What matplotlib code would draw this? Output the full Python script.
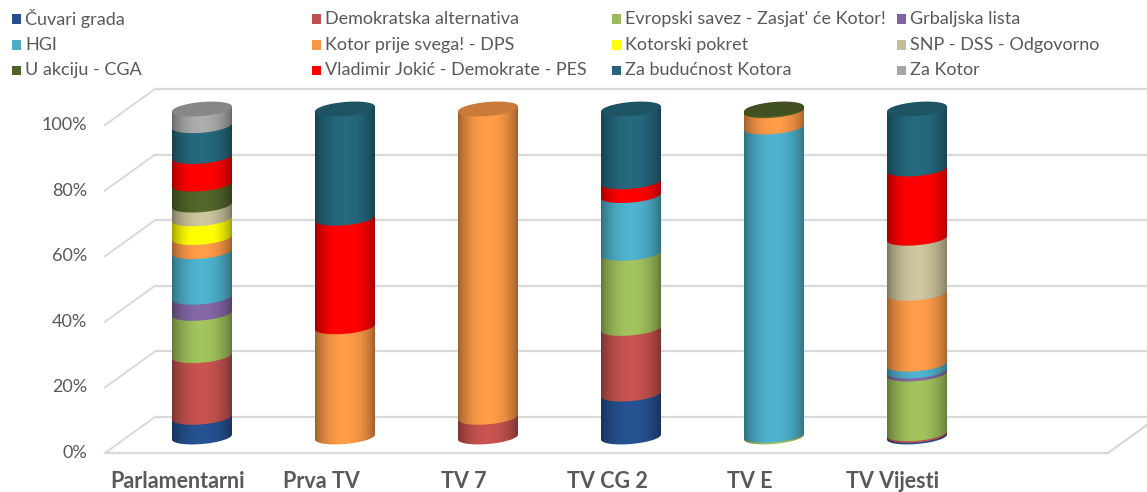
import numpy as np
import matplotlib
matplotlib.use('Agg')
import matplotlib.pyplot as plt
from matplotlib.patches import PathPatch, Rectangle, Polygon
from matplotlib.path import Path
from matplotlib.colors import to_rgb

# ---------------- data ----------------
categories = ['Parlamentarni', 'Prva TV', 'TV 7', 'TV CG 2', 'TV E', 'TV Vijesti']
series_names = ['Čuvari grada', 'Demokratska alternativa', "Evropski savez - Zasjat' će Kotor!",
                'Grbaljska lista', 'HGI', 'Kotor prije svega! - DPS', 'Kotorski pokret',
                'SNP - DSS - Odgovorno', 'U akciju - CGA', 'Vladimir Jokić - Demokrate - PES',
                'Za budućnost Kotora', 'Za Kotor']
series_colors = ['#244F8C', '#C0504D', '#9BBB59', '#8064A2', '#4BACC6', '#F79646',
                 '#FFFF00', '#C4BD97', '#4F6228', '#FF0000', '#24657A', '#A5A5A5']

cuvari_grada            = [6.0,  0.0,  0.0, 13.1,  0.0,  0.5]
demokratska_alternativa = [18.8, 0.0,  6.0, 20.0,  0.0,  0.5]
evropski_savez          = [12.9, 0.0,  0.0, 22.9,  0.5, 18.2]
grbaljska_lista         = [4.9,  0.0,  0.0,  0.0,  0.0,  0.9]
hgi                     = [13.9, 0.0,  0.0, 17.6, 94.0,  2.1]
kotor_prije_svega_dps   = [4.3, 33.6, 94.0,  0.0,  5.0, 21.6]
kotorski_pokret         = [5.7,  0.0,  0.0,  0.0,  0.0,  0.0]
snp_dss_odgovorno       = [4.2,  0.0,  0.0,  0.0,  0.0, 16.8]
u_akciju_cga            = [6.4,  0.0,  0.0,  0.0,  0.5,  0.0]
vladimir_jokic_pes      = [8.4, 33.1,  0.0,  4.2,  0.0, 21.1]
za_buducnost_kotora     = [9.4, 33.3,  0.0, 22.2,  0.0, 18.3]
za_kotor                = [5.1,  0.0,  0.0,  0.0,  0.0,  0.0]

series_values = [cuvari_grada, demokratska_alternativa, evropski_savez, grbaljska_lista, hgi,
                 kotor_prije_svega_dps, kotorski_pokret, snp_dss_odgovorno, u_akciju_cga,
                 vladimir_jokic_pes, za_buducnost_kotora, za_kotor]

y_ticks = [0, 20, 40, 60, 80, 100]
y_tick_labels = ['0%', '20%', '40%', '60%', '80%', '100%']

# ---------------- layout ----------------
W, H = 1147, 492
PX = 143.0      # pixels per category unit
PY = 3.28       # pixels per percent
X0 = 178.0      # pixel x of category 0 (front plane)
Y0 = 453.0      # pixel y of 0% (front plane)

FONT = 'Lato'
TXT = '#595959'
GRID = '#D9D9D9'

fig = plt.figure(figsize=(W / 100, H / 100), dpi=100)
ax = fig.add_axes([0, 0, 1, 1])
ax.set_xlim(-X0 / PX, (W - X0) / PX)
ax.set_ylim((Y0 - H) / PY, Y0 / PY)
ax.axis('off')

BDX = 50 / PX          # depth offset of back wall
BDY = 36 / PY
FL = (105 - X0) / PX   # front left edge
FR = (1108 - X0) / PX  # front right edge

for t, lab in zip(y_ticks, y_tick_labels):
    ax.plot([FL + BDX, FR + BDX + 1], [t + BDY, t + BDY], color=GRID, lw=1.6, zorder=1,
            solid_capstyle='butt')
    ax.plot([FL, FL + BDX], [t, t + BDY], color=GRID, lw=1.4, zorder=1)
    ax.text(FL - 18 / PX, t, lab, ha='right', va='center', fontsize=13, color=TXT,
            family=FONT)
ax.plot([FL, FR], [0, 0], color=GRID, lw=1.6, zorder=1)
ax.plot([FR, FR + BDX], [0, BDY], color=GRID, lw=1.6, zorder=1)

# ---------------- cylinders ----------------
BAR_DX = 24 / PX
BAR_DY = 16 / PY
A = 30 / PX                 # half width
B = 7 / PY                  # semi-minor of ellipse
S = (5 / PY) / (60 / PX)    # shear (right side higher)

NG = 240
tt = np.linspace(0, 1, NG)
shade = 0.62 + 0.43 * np.sin(np.pi * tt) ** 0.7


def seg_path(xc, y0, y1):
    th = np.linspace(np.pi, 2 * np.pi, 60)
    xs = xc + A * np.cos(th)
    ys = y0 + B * np.sin(th) + S * A * np.cos(th)
    xs = np.concatenate([xs, [xc + A, xc - A]])
    ys = np.concatenate([ys, [y1 + S * A, y1 - S * A]])
    return Path(np.column_stack([xs, ys]), closed=False)


def ellipse_path(xc, y):
    th = np.linspace(0, 2 * np.pi, 100)
    xs = xc + A * np.cos(th)
    ys = y + B * np.sin(th) + S * A * np.cos(th)
    return Path(np.column_stack([xs, ys]))


for i, cat in enumerate(categories):
    vals = np.array([s[i] for s in series_values], dtype=float)
    vals = vals / vals.sum() * 100
    xc = i + BAR_DX
    cum = 0.0
    last_color = None
    for k, v in enumerate(vals):
        if v <= 0:
            continue
        y0 = BAR_DY + cum
        y1 = BAR_DY + cum + v
        base = np.array(to_rgb(series_colors[k]))
        img = np.clip(base[None, None, :] * shade[None, :, None], 0, 1)
        patch = PathPatch(seg_path(xc, y0, y1), transform=ax.transData,
                          facecolor='none', edgecolor='none')
        im = ax.imshow(img, extent=(xc - A, xc + A, y0 - B - S * A - 1, y1 + S * A + 1),
                       aspect='auto', interpolation='bilinear', zorder=3 + k * 0.01)
        im.set_clip_path(patch)
        cum += v
        last_color = base
    top = BAR_DY + 100
    ax.add_patch(PathPatch(ellipse_path(xc, top), facecolor=np.clip(last_color * 0.82, 0, 1),
                           edgecolor='none', zorder=4))

ax.set_xlim(-X0 / PX, (W - X0) / PX)
ax.set_ylim((Y0 - H) / PY, Y0 / PY)

# category labels
for i, cat in enumerate(categories):
    ax.text(i, (Y0 - 481) / PY, cat, ha='center', va='center', fontsize=15.5,
            fontweight='bold', color=TXT, family=FONT)

# ---------------- legend ----------------
col_x = [12, 312, 612, 897]
row_y = [19, 45, 70]
for k, name in enumerate(series_names):
    r, c = divmod(k, 4)
    x, y = col_x[c], row_y[r]
    fig.patches.append(Rectangle((x / W, 1 - (y + 4.5) / H), 9 / W, 9 / H,
                                 transform=fig.transFigure, facecolor=series_colors[k],
                                 edgecolor='none'))
    fig.text((x + 13) / W, 1 - y / H, name, ha='left', va='center', fontsize=13,
             color=TXT, family=FONT)

fig.savefig('out.png', dpi=100)
